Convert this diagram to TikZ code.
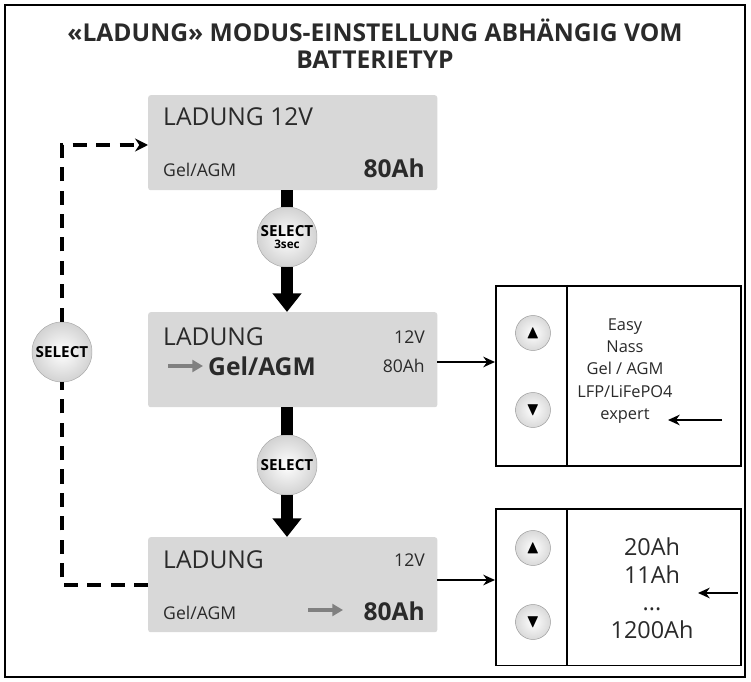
\documentclass[tikz,border=0pt]{standalone}
\usepackage{amssymb}
\usepackage{fontspec}
\setmainfont{Open Sans}
\usetikzlibrary{arrows.meta,positioning}
\definecolor{boxgray}{HTML}{D8D8D8}
\definecolor{txtgray}{HTML}{2A2A2A}
\newcommand{\fsz}[1]{\fontsize{#1}{1.2\dimexpr#1pt\relax}\selectfont}
\tikzset{
  screen/.style={fill=boxgray, draw=none, rounded corners=2pt, minimum width=8.67cm, minimum height=2.85cm, anchor=north west},
  btn/.style={circle, draw=gray!70, inner sep=0pt, minimum size=1.8cm, inner color=white, outer color=gray!35, font=\bfseries\fsz{13}},
  keybtn/.style={circle, draw=gray!80, inner sep=0pt, minimum size=1.05cm, inner color=white, outer color=gray!30, font=\fsz{16}},
  lbl/.style={text=txtgray, inner sep=0pt},
  stem/.style={line width=10pt, black},
  bigarrow/.style={-{Triangle[width=24pt,length=16pt]}, line width=10pt, black},
  thinarrow/.style={-{Stealth[length=10pt,width=9pt]}, line width=1.8pt},
  loop/.style={dash pattern=on 12pt off 8pt, line width=3pt},
}
\begin{document}
\begin{tikzpicture}[x=0.03cm, y=-0.03cm]
  \useasboundingbox (0,0) rectangle (751,682);
  \draw[line width=1.5pt] (5,5) rectangle (745,677);

  % title
  \node[font=\bfseries\fsz{21}, text=txtgray] (title1) at (375,30) {«LADUNG» MODUS-EINSTELLUNG ABHÄNGIG VOM};
  \node[font=\bfseries\fsz{21}, text=txtgray] (title2) at (375,60) {BATTERIETYP};

  % screens
  \node[screen] (s1) at (148,95) {};
  \node[screen] (s2) at (148,312) {};
  \node[screen] (s3) at (148,537) {};

  \node[lbl, anchor=west, font=\fsz{21}] at (163,117) {LADUNG 12V};
  \node[lbl, anchor=west, font=\fsz{15}] at (163,170) {Gel/AGM};
  \node[lbl, anchor=east, font=\bfseries\fsz{21}] at (425,168) {80Ah};

  \node[lbl, anchor=west, font=\fsz{21}] at (163,337) {LADUNG};
  \node[lbl, anchor=east, font=\fsz{15}] at (425,337) {12V};
  \draw[gray, line width=3pt, -{Triangle[length=9pt,width=10pt]}] (168,366) -- (203,366);
  \node[lbl, anchor=west, font=\bfseries\fsz{21}] at (208,366) {Gel/AGM};
  \node[lbl, anchor=east, font=\fsz{15}] at (425,366) {80Ah};

  \node[lbl, anchor=west, font=\fsz{21}] at (163,560) {LADUNG};
  \node[lbl, anchor=east, font=\fsz{15}] at (425,560) {12V};
  \node[lbl, anchor=west, font=\fsz{15}] at (163,613) {Gel/AGM};
  \draw[gray, line width=3pt, -{Triangle[length=9pt,width=10pt]}] (308,610) -- (343,610);
  \node[lbl, anchor=east, font=\bfseries\fsz{21}] at (425,611) {80Ah};

  % select buttons
  \node[btn, align=center] (sel1) at (287,237) {SELECT\\[-6pt]{\fsz{10}3sec}};
  \node[btn] (sel2) at (287,465) {SELECT};
  \node[btn] (sel3) at (62,352) {SELECT};

  \draw[stem] (s1.south -| sel1) -- (sel1.north);
  \draw[bigarrow] (sel1.south) -- (s2.north -| sel1);
  \draw[stem] (s2.south -| sel2) -- (sel2.north);
  \draw[bigarrow] (sel2.south) -- (s3.north -| sel2);

  % dashed loop
  \coordinate (lb) at (62,585);
  \coordinate (lt) at (62,145);
  \draw[loop] (s3.west |- lb) -- (lb) -- (sel3.south);
  \draw[loop, -{Stealth[length=11pt,width=11pt]}] (sel3.north) -- (lt) -- (s1.west |- lt);

  % option panels
  \node[draw, line width=1.3pt, minimum width=7.35cm, minimum height=5.4cm, anchor=north west] (p1) at (495,285) {};
  \node[draw, line width=1.3pt, minimum width=7.35cm, minimum height=4.7cm, anchor=north west] (p2) at (495,508) {};
  \draw[line width=1pt] (567,285) -- (567,465);
  \draw[line width=1pt] (567,508) -- (567,665);

  \node[keybtn] (up1) at (533,333) {$\blacktriangle$};
  \node[keybtn] (dn1) at (533,410) {$\blacktriangledown$};
  \node[keybtn] (up2) at (533,548) {$\blacktriangle$};
  \node[keybtn] (dn2) at (533,622) {$\blacktriangledown$};

  \node[lbl, align=center, font=\fontsize{14}{19}\selectfont] (opt1) at (625,371) {Easy\\Nass\\Gel / AGM\\LFP/LiFePO4\\expert};
  \node[lbl, align=center, font=\fontsize{20}{23.5}\selectfont] (opt2) at (652,588) {20Ah\\11Ah\\...\\1200Ah};

  \coordinate (in1) at (722,420);
  \coordinate (in2) at (738,593);
  \draw[thinarrow] (s2.east |- 0,362) -- (p1.west |- 0,362);
  \draw[thinarrow] (s3.east |- 0,580) -- (p2.west |- 0,580);
  \draw[thinarrow] (in1) -- (668,420);
  \draw[thinarrow] (in2) -- (698,593);
\end{tikzpicture}
\end{document}
